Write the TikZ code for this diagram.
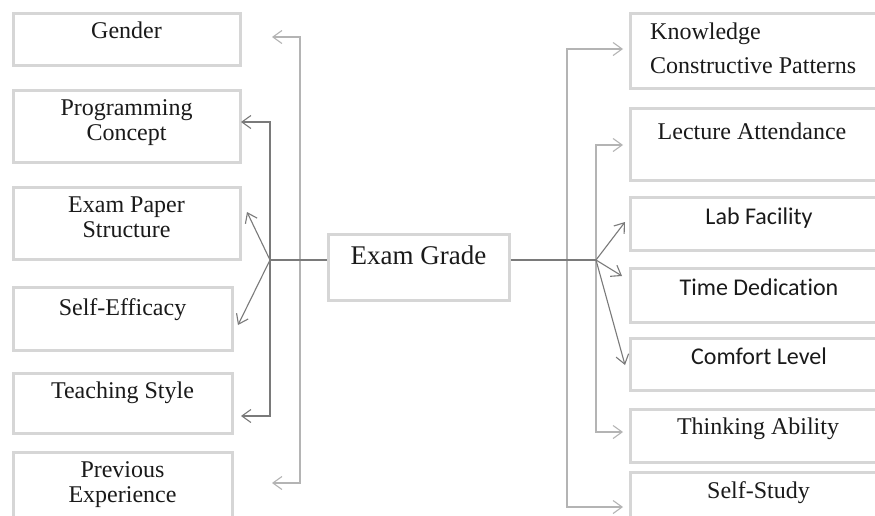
\documentclass[tikz,border=0pt]{standalone}
\usepackage{fontspec}
\setmainfont{Liberation Serif}
\newfontfamily\calibrilike[Ligatures={NoCommon}]{Carlito}
\usetikzlibrary{arrows.meta}
\definecolor{boxgray}{HTML}{D6D6D6}
\definecolor{linedark}{HTML}{7A7A7A}
\definecolor{linelight}{HTML}{B4B4B4}
\definecolor{inkc}{HTML}{1A1A1A}
\begin{document}
\begin{tikzpicture}[x=1pt,y=-1pt,
  box/.style={draw=boxgray, line width=3pt, fill=white, rectangle, inner sep=0pt},
  serif/.style={font=\fontsize{24}{28}\selectfont, text=inkc, inner sep=0pt, anchor=base},
  sans/.style={font=\calibrilike\fontsize{24}{28}\selectfont, text=inkc, inner sep=0pt, anchor=base},
  conn/.style={line width=1.1pt, draw=linedark, -{Straight Barb[length=9pt,width=13pt,line width=1.1pt]}},
  connlight/.style={conn, draw=linelight},
  plain/.style={line width=1.1pt, draw=linedark}]
\useasboundingbox (0,0) rectangle (875,515);
\clip (0,0) rectangle (875,515);
\fill[white] (0,0) rectangle (875,515);

% ---- boxes on the left ----
\node[box, minimum width=227pt, minimum height=52pt] (gender) at (126.5,39) {};
\node[box, minimum width=227pt, minimum height=72pt] (prog)   at (126.5,126) {};
\node[box, minimum width=227pt, minimum height=72pt] (eps)    at (126.5,223) {};
\node[box, minimum width=219pt, minimum height=63pt] (se)     at (122.5,318.5) {};
\node[box, minimum width=219pt, minimum height=60pt] (teach)  at (122.5,403) {};
\node[box, minimum width=219pt, minimum height=88pt] (prev)   at (122.5,496) {};

% ---- central box ----
\node[box, minimum width=181pt, minimum height=66pt] (eg) at (418.5,267) {};

% ---- boxes on the right ----
\node[box, minimum width=260pt, minimum height=75pt] (know)  at (760,50.5) {};
\node[box, minimum width=260pt, minimum height=72pt] (lect)  at (760,144) {};
\node[box, minimum width=260pt, minimum height=53pt] (lab)   at (760,223.5) {};
\node[box, minimum width=260pt, minimum height=54pt] (time)  at (760,295) {};
\node[box, minimum width=260pt, minimum height=52pt] (comf)  at (760,364) {};
\node[box, minimum width=260pt, minimum height=53pt] (think) at (760,435.5) {};
\node[box, minimum width=260pt, minimum height=70pt] (self)  at (760,507) {};

% ---- labels ----
\node[serif] (tgender) at (126.5,38)  {Gender};
\node[serif] (tprogA)  at (126.5,115) {Programming};
\node[serif] (tprogB)  at (126.5,140) {Concept};
\node[serif] (tepsA)   at (126.5,212) {Exam Paper};
\node[serif] (tepsB)   at (126.5,237) {Structure};
\node[serif] (tse)     at (122.5,315) {Self-Efficacy};
\node[serif] (tteach)  at (122.5,398) {Teaching Style};
\node[serif] (tprevA)  at (122.5,477) {Previous};
\node[serif] (tprevB)  at (122.5,502) {Experience};
\node[serif, font=\fontsize{27}{30}\selectfont] (teg) at (418.5,264) {Exam Grade};
\node[serif, anchor=base west] (tknowA) at (650,39) {Knowledge};
\node[serif, anchor=base west] (tknowB) at (650,73) {Constructive Patterns};
\node[serif] (tlect)  at (752,139) {Lecture Attendance};
\node[sans]  (tlab)   at (759,224) {Lab Facility};
\node[sans]  (ttime)  at (759,295) {Time Dedication};
\node[sans]  (tcomf)  at (759,364) {Comfort Level};
\node[serif] (tthink) at (758,434) {Thinking Ability};
\node[serif] (tself)  at (758.5,498) {Self-Study};

% ---- junctions and arrow tips ----
\coordinate (jl)  at (270,260);
\coordinate (jlo) at (300,260);
\coordinate (jr)  at (596,260);
\coordinate (jro) at (567,260);

\coordinate (aGender) at (272,37);
\coordinate (aProg)   at (241,122);
\coordinate (aEps)    at (247,212);
\coordinate (aSe)     at (238,325);
\coordinate (aTeach)  at (241,416);
\coordinate (aPrev)   at (272,483);

\coordinate (aKnow)  at (623,49);
\coordinate (aLect)  at (623,145);
\coordinate (aLab)   at (625,222);
\coordinate (aTime)  at (622,276);
\coordinate (aComf)  at (625,365);
\coordinate (aThink) at (623,432);
\coordinate (aSelf)  at (623,507);

% ---- left connectors ----
\draw[connlight] (jlo) |- (aGender);
\draw[connlight] (jlo) |- (aPrev);
\draw[plain] (eg.west |- jl) -- (jl);
\draw[conn] (jl) |- (aProg);
\draw[conn] (jl) |- (aTeach);
\draw[conn] (jl) -- (aEps);
\draw[conn] (jl) -- (aSe);

% ---- right connectors ----
\draw[connlight] (jro) |- (aKnow);
\draw[connlight] (jro) |- (aSelf);
\draw[connlight] (jr) |- (aLect);
\draw[connlight] (jr) |- (aThink);
\draw[plain] (eg.east |- jr) -- (jr);
\draw[conn] (jr) -- (aLab);
\draw[conn] (jr) -- (aTime);
\draw[conn] (jr) -- (aComf);
\end{tikzpicture}
\end{document}
